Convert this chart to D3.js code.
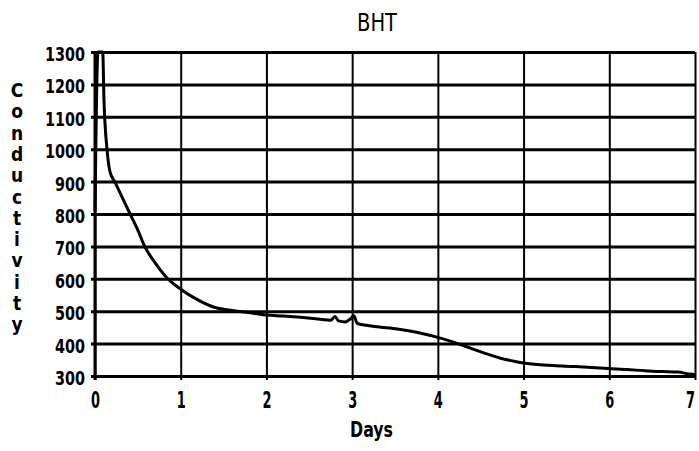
<!DOCTYPE html>
<html>
<head>
    <title>BHT Conductivity</title>
    <script src="https://unpkg.com/d3@7/dist/d3.min.js"></script>
    <style>
        body { margin: 0; background: #fff; }
        svg { display: block; }
        .tick text { font-family: "DejaVu Sans Condensed", "Liberation Sans Narrow", sans-serif; font-weight: bold; fill: #000; }
        .domain { display: none; }
    </style>
</head>
<body>
<svg width="699" height="451"></svg>
<script>
    // values
    const days = [0.0, 0.035, 0.09, 0.105, 0.14, 0.175, 0.23, 0.32, 0.41, 0.5, 0.58, 0.7, 0.85, 1.0,
        1.2, 1.38, 1.6, 1.77, 2.0, 2.2, 2.4, 2.6, 2.75, 2.8, 2.84, 2.92, 2.98, 3.02, 3.06, 3.2, 3.44,
        3.6, 3.79, 4.03, 4.2, 4.38, 4.55, 4.73, 4.9, 5.0, 5.3, 5.6, 5.89, 6.2, 6.5, 6.8, 6.94, 7.0];
    const conductivity = [810, 1300, 1300, 1150, 1000, 930, 900, 850, 800, 750, 700, 650, 600, 568,
        535, 513, 502, 497, 488, 485, 481, 476, 472, 484, 470, 467, 476, 486, 462, 455, 448,
        442, 433, 417, 403, 386, 370, 355, 345, 340, 333, 329, 325, 320, 315, 312, 306, 305];
    const dayTicks = [0, 1, 2, 3, 4, 5, 6, 7];
    const condTicks = [300, 400, 500, 600, 700, 800, 900, 1000, 1100, 1200, 1300];
    const yTitle = 'Conductivity';

    const font = '"DejaVu Sans Condensed", "Liberation Sans Narrow", sans-serif';
    const margin = {top: 52, right: 4, bottom: 75, left: 95};
    const svg = d3.select('svg');
    const width = +svg.attr('width') - margin.left - margin.right;
    const height = +svg.attr('height') - margin.top - margin.bottom;

    const x = d3.scaleLinear().domain([0, 7]).range([0, width]);
    const y = d3.scaleLinear().domain([300, 1300]).range([height, 0]);

    const g = svg.append('g').attr('transform', `translate(${margin.left},${margin.top})`);

    // horizontal grid + y labels
    const yAxisG = g.append('g')
        .attr('transform', 'translate(-4,0)')
        .call(d3.axisLeft(y).tickValues(condTicks).tickFormat(d3.format('d'))
            .tickSizeInner(-(width + 4)).tickSizeOuter(0).tickPadding(6));
    yAxisG.selectAll('.tick line').attr('stroke', '#000').attr('stroke-width', 3);
    yAxisG.selectAll('.tick text')
        .attr('font-size', 20)
        .attr('dy', '0.42em')
        .attr('textLength', d => String(d).length * 10)
        .attr('lengthAdjust', 'spacingAndGlyphs');

    // vertical grid + x labels
    const xAxisG = g.append('g')
        .attr('transform', `translate(0,${height + 4})`)
        .call(d3.axisBottom(x).tickValues(dayTicks).tickFormat(d3.format('d'))
            .tickSizeInner(-(height + 4)).tickSizeOuter(0).tickPadding(10));
    xAxisG.selectAll('.tick line').attr('stroke', '#000').attr('stroke-width', 2);
    xAxisG.selectAll('.tick text')
        .attr('font-size', 23)
        .attr('dy', '0.8em')
        .attr('textLength', 9)
        .attr('lengthAdjust', 'spacingAndGlyphs')
        .attr('x', d => d === 7 ? -5 : 0);

    // left axis line
    g.append('line')
        .attr('x1', 0).attr('x2', 0).attr('y1', 0).attr('y2', height + 4)
        .attr('stroke', '#000').attr('stroke-width', 3);

    // data line
    const line = d3.line()
        .x((d, i) => x(days[i]))
        .y(d => y(d))
        .curve(d3.curveMonotoneX);
    g.append('path')
        .datum(conductivity)
        .attr('d', line)
        .attr('fill', 'none')
        .attr('stroke', '#000')
        .attr('stroke-width', 3)
        .attr('stroke-linejoin', 'round');

    // title
    svg.append('text')
        .attr('x', 357).attr('y', 31)
        .attr('font-family', font)
        .attr('font-size', 24)
        .attr('textLength', 40)
        .attr('lengthAdjust', 'spacingAndGlyphs')
        .text('BHT');

    // x title
    svg.append('text')
        .attr('x', 350).attr('y', 437)
        .attr('font-family', font)
        .attr('font-weight', 'bold')
        .attr('font-size', 21)
        .attr('textLength', 43)
        .attr('lengthAdjust', 'spacingAndGlyphs')
        .text('Days');

    // y title, one letter per line
    svg.append('g')
        .selectAll('text')
        .data(yTitle.split(''))
        .join('text')
        .attr('x', 17)
        .attr('y', (d, i) => 97 + i * 21.3)
        .attr('text-anchor', 'middle')
        .attr('font-family', font)
        .attr('font-weight', 'bold')
        .attr('font-size', 19)
        .text(d => d);
</script>
</body>
</html>
